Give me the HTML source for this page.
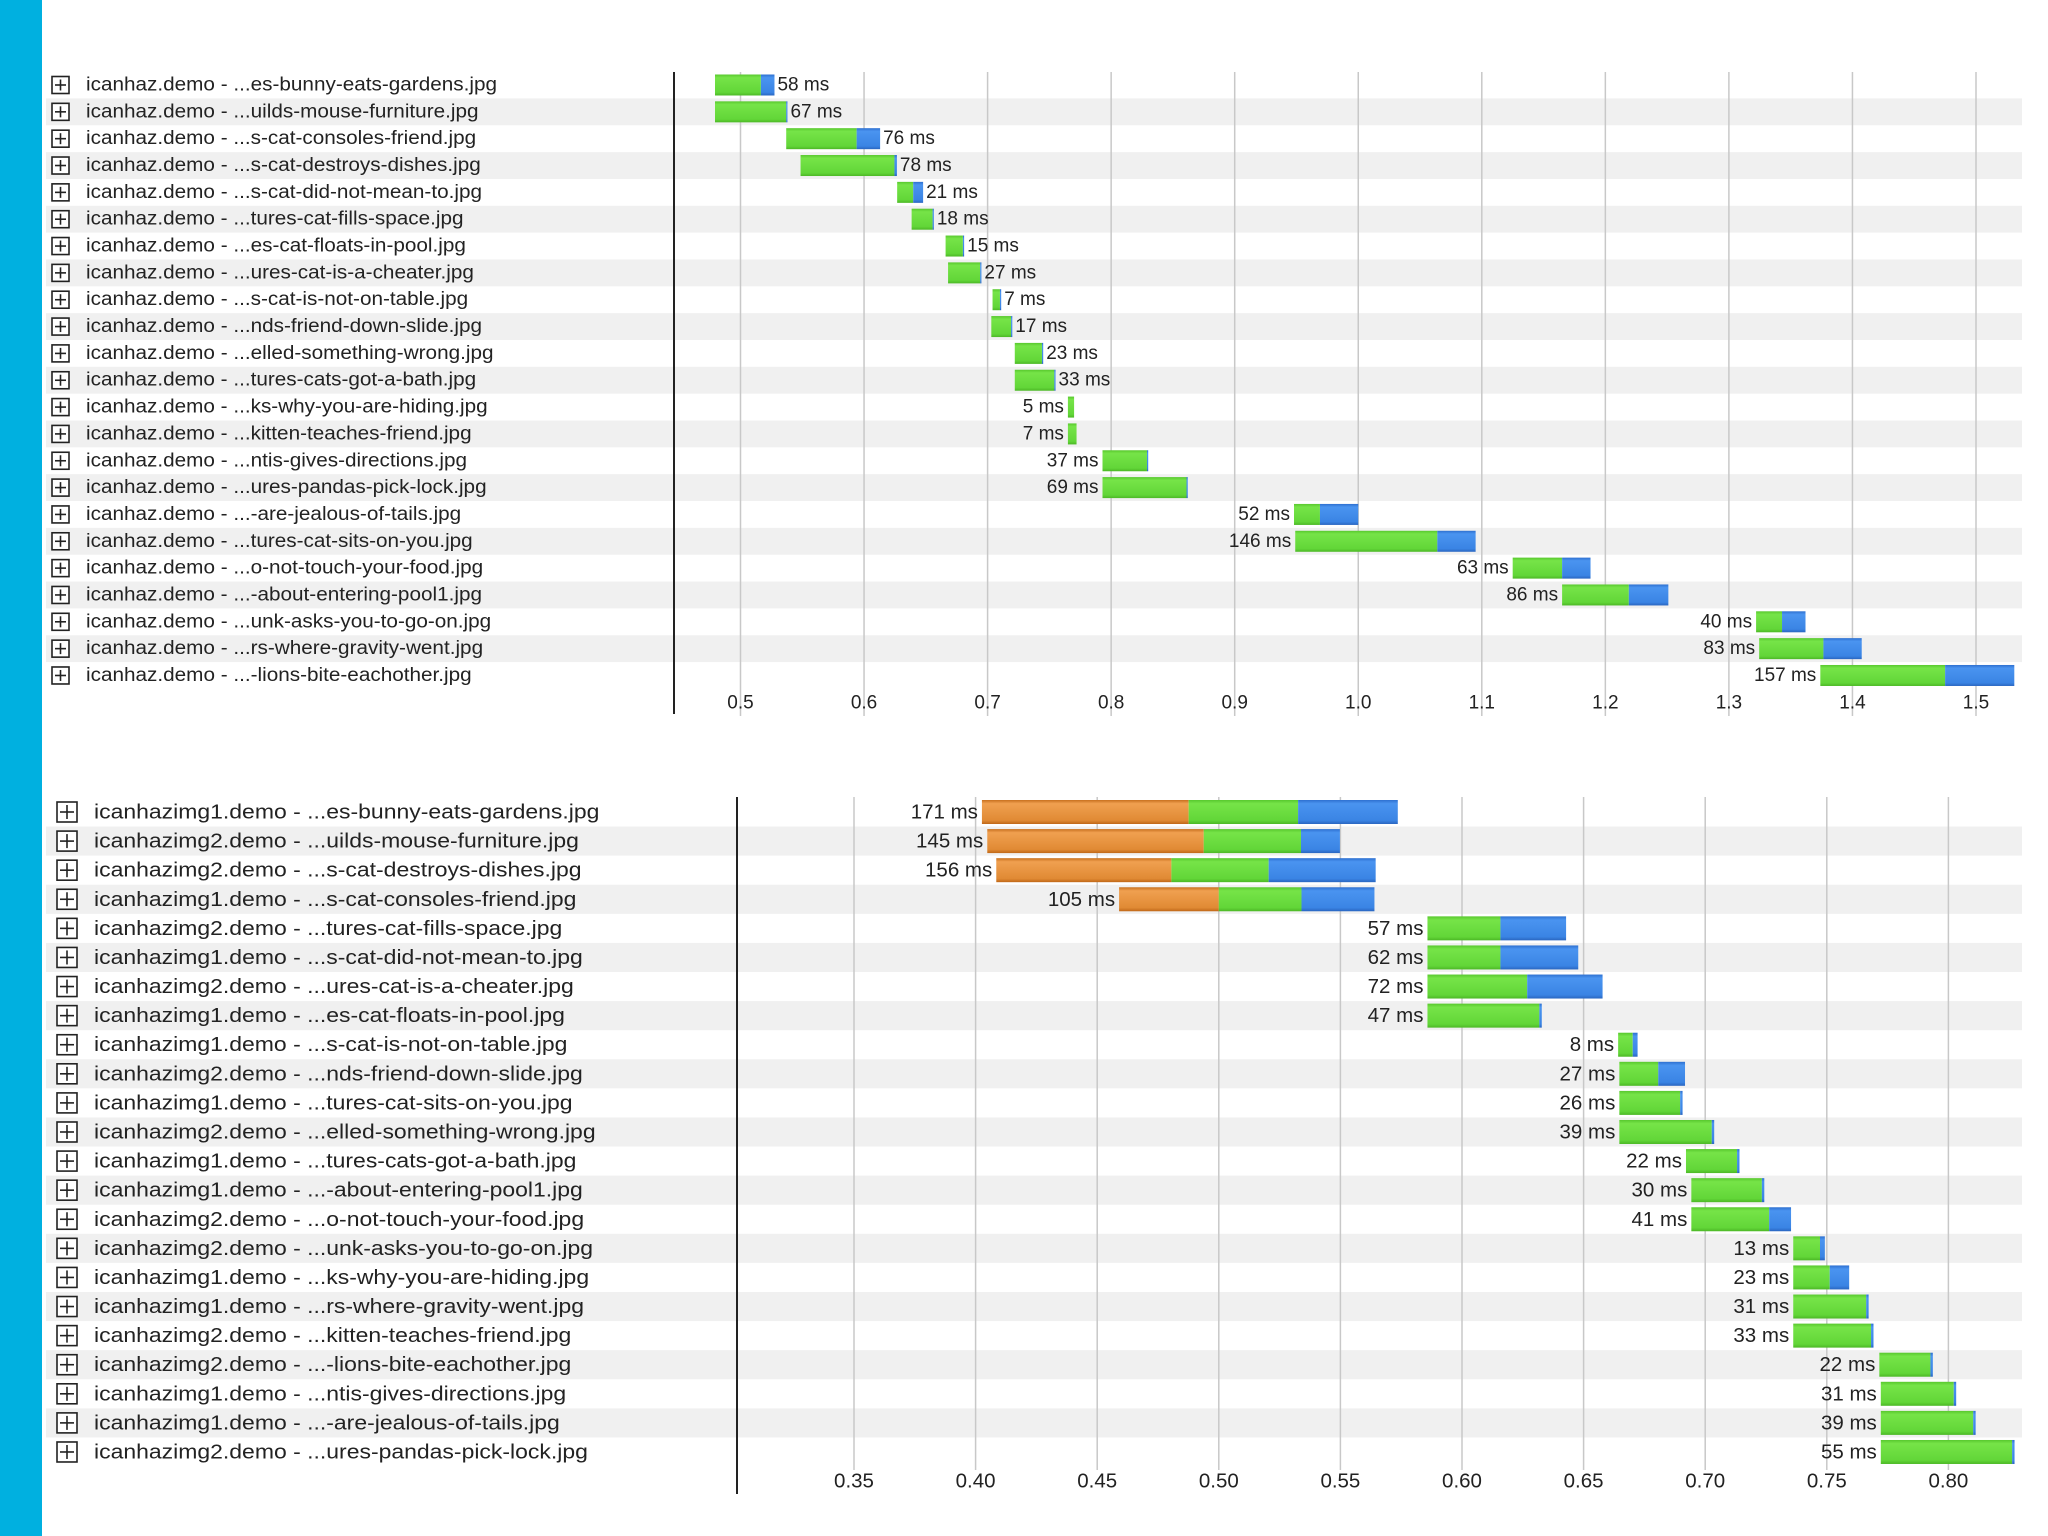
<!DOCTYPE html>
<html><head><meta charset="utf-8"><style>
html,body{margin:0;padding:0;background:#fff;width:2048px;height:1536px;overflow:hidden}
svg{display:block;font-family:"Liberation Sans",sans-serif}
</style></head><body>
<svg id="svg" width="2048" height="1536">
<defs>
<linearGradient id="gG" x1="0" y1="0" x2="0" y2="1"><stop offset="0" stop-color="#58c82e"/><stop offset="0.15" stop-color="#76e448"/><stop offset="0.85" stop-color="#62d638"/><stop offset="1" stop-color="#4cb826"/></linearGradient>
<linearGradient id="gB" x1="0" y1="0" x2="0" y2="1"><stop offset="0" stop-color="#2e70d0"/><stop offset="0.15" stop-color="#4a94f0"/><stop offset="0.85" stop-color="#3a84e4"/><stop offset="1" stop-color="#2a66c0"/></linearGradient>
<linearGradient id="gO" x1="0" y1="0" x2="0" y2="1"><stop offset="0" stop-color="#c8701e"/><stop offset="0.15" stop-color="#f0a050"/><stop offset="0.85" stop-color="#e08a34"/><stop offset="1" stop-color="#c06818"/></linearGradient>
</defs>
<rect x="0" y="0" width="42" height="1536" fill="#00b0e0"/>
</svg>
<script>
// ---- top chart data ----
const topNames = ["es-bunny-eats-gardens.jpg","uilds-mouse-furniture.jpg","s-cat-consoles-friend.jpg","s-cat-destroys-dishes.jpg","s-cat-did-not-mean-to.jpg","tures-cat-fills-space.jpg","es-cat-floats-in-pool.jpg","ures-cat-is-a-cheater.jpg","s-cat-is-not-on-table.jpg","nds-friend-down-slide.jpg","elled-something-wrong.jpg","tures-cats-got-a-bath.jpg","ks-why-you-are-hiding.jpg","kitten-teaches-friend.jpg","ntis-gives-directions.jpg","ures-pandas-pick-lock.jpg","-are-jealous-of-tails.jpg","tures-cat-sits-on-you.jpg","o-not-touch-your-food.jpg","-about-entering-pool1.jpg","unk-asks-you-to-go-on.jpg","rs-where-gravity-went.jpg","-lions-bite-eachother.jpg"];
const topStart = [0.4695,0.471,0.537,0.5486,0.6268,0.6385,0.666,0.668,0.704,0.703,0.722,0.722,0.765,0.765,0.793,0.793,0.948,0.949,1.125,1.165,1.322,1.3245,1.374];
const topGreen = [47,66,57,76,13,17,14,26,6,16,22,32,5,7,36,68,21,115,40,54,21,52,101];
const topBlue = [11,1,19,2,8,1,1,1,1,1,1,1,0,0,1,1,31,31,23,32,19,31,56];
const topLabelLeft = [0,0,0,0,0,0,0,0,0,0,0,0,1,1,1,1,1,1,1,1,1,1,1];
const topTicks = [0.5,0.6,0.7,0.8,0.9,1.0,1.1,1.2,1.3,1.4,1.5];
const topTickLabels = ["0.5","0.6","0.7","0.8","0.9","1.0","1.1","1.2","1.3","1.4","1.5"];
// ---- bottom chart data ----
const botHosts = ["icanhazimg1.demo","icanhazimg2.demo","icanhazimg2.demo","icanhazimg1.demo","icanhazimg2.demo","icanhazimg1.demo","icanhazimg2.demo","icanhazimg1.demo","icanhazimg1.demo","icanhazimg2.demo","icanhazimg1.demo","icanhazimg2.demo","icanhazimg1.demo","icanhazimg1.demo","icanhazimg2.demo","icanhazimg2.demo","icanhazimg1.demo","icanhazimg1.demo","icanhazimg2.demo","icanhazimg2.demo","icanhazimg1.demo","icanhazimg1.demo","icanhazimg2.demo"];
const botNames = ["es-bunny-eats-gardens.jpg","uilds-mouse-furniture.jpg","s-cat-destroys-dishes.jpg","s-cat-consoles-friend.jpg","tures-cat-fills-space.jpg","s-cat-did-not-mean-to.jpg","ures-cat-is-a-cheater.jpg","es-cat-floats-in-pool.jpg","s-cat-is-not-on-table.jpg","nds-friend-down-slide.jpg","tures-cat-sits-on-you.jpg","elled-something-wrong.jpg","tures-cats-got-a-bath.jpg","-about-entering-pool1.jpg","o-not-touch-your-food.jpg","unk-asks-you-to-go-on.jpg","ks-why-you-are-hiding.jpg","rs-where-gravity-went.jpg","kitten-teaches-friend.jpg","-lions-bite-eachother.jpg","ntis-gives-directions.jpg","-are-jealous-of-tails.jpg","ures-pandas-pick-lock.jpg"];
const botStart = [0.4026,0.4048,0.4085,0.459,0.5858,0.5858,0.5858,0.5858,0.6642,0.6647,0.6647,0.6647,0.6921,0.6943,0.6943,0.7362,0.7362,0.7362,0.7362,0.7716,0.7722,0.7722,0.7722];
const botOrange = [85,89,72,41,0,0,0,0,0,0,0,0,0,0,0,0,0,0,0,0,0,0,0];
const botGreen = [45,40,40,34,30,30,41,46,6,16,25,38,21,29,32,11,15,30,32,21,30,38,54];
const botBlue = [41,16,44,30,27,32,31,1,2,11,1,1,1,1,9,2,8,1,1,1,1,1,1];
const botTicks = [0.35,0.40,0.45,0.50,0.55,0.60,0.65,0.70,0.75,0.80];
const botTickLabels = ["0.35","0.40","0.45","0.50","0.55","0.60","0.65","0.70","0.75","0.80"];

const svg = document.getElementById('svg');
const NS = 'http://www.w3.org/2000/svg';
function mk(tag, attrs, parent){const e=document.createElementNS(NS,tag);for(const k in attrs)e.setAttribute(k,attrs[k]);(parent||svg).appendChild(e);return e;}

function drawChart(cfg){
  const g = mk('g',{});
  
  
  const X = t => cfg.x0 + (t - cfg.t0) * cfg.pps;
  const Y = i => cfg.y0 + i * cfg.pitch;
  const n = cfg.names.length;
  for(let i=0;i<n;i++){ if(i%2===1){
    const r = mk('rect',{x:46,y:Y(i)-cfg.pitch/2,width:1976,height:cfg.pitch,fill:'#f0f0f0'},g);
    
    
  }}
  cfg.ticks.forEach((t,k)=>{
    const x = X(t);
    const l = mk('line',{x1:x,x2:x,y1:cfg.gTop,y2:cfg.gBot,stroke:'#c8c8c8','stroke-width':1.5},g);
    
    
    const tx = mk('text',{x:x,y:cfg.tickY,'font-size':cfg.fs,'text-anchor':'middle','dominant-baseline':'central',fill:'#222'},g);
    tx.textContent = cfg.tickLabels[k];
    
    
  });
  const ax = mk('line',{x1:cfg.axisX,x2:cfg.axisX,y1:cfg.gTop,y2:cfg.axisBot,stroke:'#222','stroke-width':2},g);
  
  
  const clipId = cfg.name+'-clip';
  const cp = mk('clipPath',{id:clipId},g);
  mk('rect',{x:cfg.plotL,y:0,width:2022-cfg.plotL,height:1536},cp);
  for(let i=0;i<n;i++){
    const y = Y(i);
    const ic = mk('g',{},g);
    
    
    const s = cfg.icon;
    mk('rect',{x:cfg.iconX,y:y-s/2,width:s,height:s,fill:'#fff',stroke:'#222','stroke-width':1.6},ic);
    mk('line',{x1:cfg.iconX+3,x2:cfg.iconX+s-3,y1:y,y2:y,stroke:'#222','stroke-width':1.6},ic);
    mk('line',{x1:cfg.iconX+s/2,x2:cfg.iconX+s/2,y1:y-s/2+3,y2:y+s/2-3,stroke:'#222','stroke-width':1.6},ic);
    const lb = mk('text',{x:cfg.textX,y:y,'font-size':cfg.fs,'dominant-baseline':'central',fill:'#222'},g);
    lb.textContent = cfg.hosts[i] + ' - ...' + cfg.names[i];
    
    
    const w = lb.getComputedTextLength();
    if (w > 0) { lb.setAttribute('textLength', (w*cfg.stretch).toFixed(1)); lb.setAttribute('lengthAdjust','spacingAndGlyphs'); }
    const bg = mk('g',{'clip-path':'url(#'+clipId+')'},g);
    
    
    let t = cfg.start[i];
    const segs = [[cfg.orange?cfg.orange[i]:0,'url(#gO)'],[cfg.green[i],'url(#gG)'],[cfg.blue[i],'url(#gB)']];
    const total = segs.reduce((a,b)=>a+b[0],0);
    const xs = X(t);
    segs.forEach(([ms,fill])=>{
      if(ms<=0) return;
      const r = mk('rect',{x:X(t),y:y-cfg.barH/2,width:X(t+ms/1000)-X(t),height:cfg.barH,fill:fill},bg);
      
      
      t += ms/1000;
    });
    const xe = X(t);
    const left = cfg.labelLeft ? cfg.labelLeft[i] : 1;
    const vt = mk('text',{x:left?xs-4:xe+3,y:y,'font-size':cfg.fs,'dominant-baseline':'central','text-anchor':left?'end':'start',fill:'#222'},g);
    vt.textContent = total + ' ms';
    
    
  }
}
drawChart({name:'top-waterfall',names:topNames,hosts:topNames.map(()=> 'icanhaz.demo'),start:topStart,green:topGreen,blue:topBlue,labelLeft:topLabelLeft,
  ticks:topTicks,tickLabels:topTickLabels,x0:740.5,t0:0.5,pps:1235.5,y0:85,pitch:26.84,barH:21,gTop:72,gBot:716,axisX:674,axisBot:714,tickY:703,plotL:715,
  fs:19,iconX:52,icon:17,textX:86,stretch:1.09});
drawChart({name:'bottom-waterfall',names:botNames,hosts:botHosts,start:botStart,orange:botOrange,green:botGreen,blue:botBlue,labelLeft:null,
  ticks:botTicks,tickLabels:botTickLabels,x0:854,t0:0.35,pps:2432,y0:812,pitch:29.09,barH:24,gTop:797,gBot:1470,axisX:737,axisBot:1494,tickY:1481,plotL:740,
  fs:20.5,iconX:57,icon:20,textX:94,stretch:1.12});
</script>
</body></html>
